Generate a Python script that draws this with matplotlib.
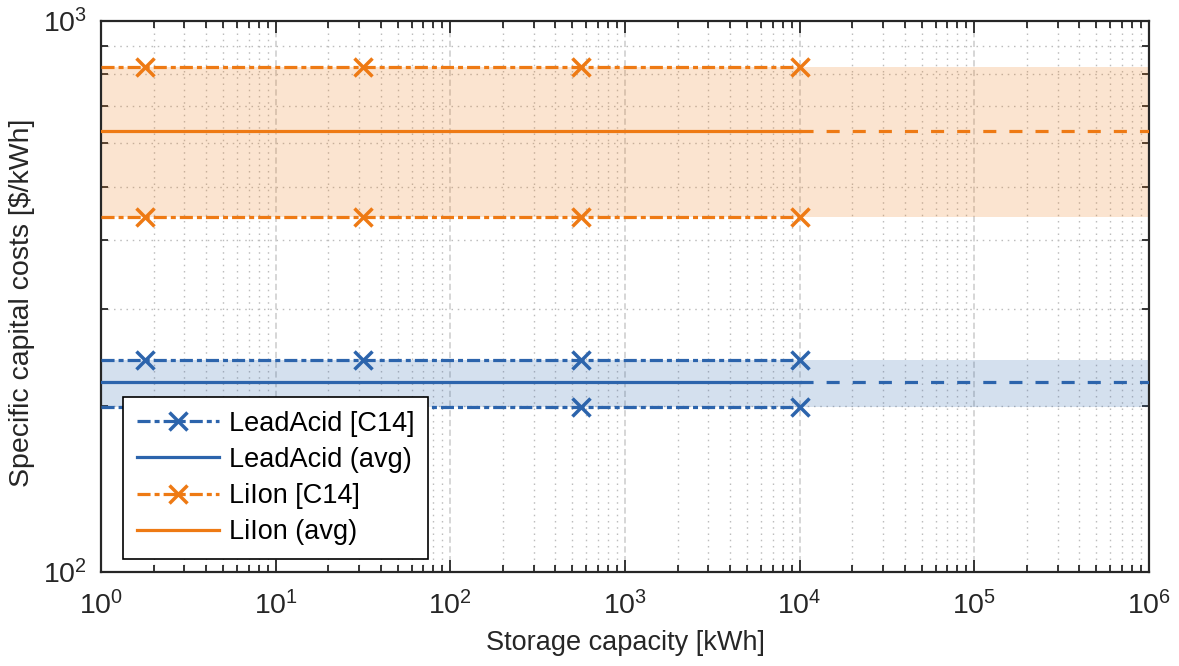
import matplotlib
matplotlib.use("Agg")
import matplotlib.pyplot as plt
from matplotlib.ticker import FixedLocator, NullFormatter

plt.rcParams['font.family'] = ['Liberation Sans', 'DejaVu Sans']
plt.rcParams['mathtext.fontset'] = 'custom'
plt.rcParams['mathtext.rm'] = 'Liberation Sans'
plt.rcParams['mathtext.it'] = 'Liberation Sans:italic'
plt.rcParams['mathtext.bf'] = 'Liberation Sans:bold'
plt.rcParams['lines.scale_dashes'] = False

# Storage capacity sample points [kWh] (C14 cost estimates are marked at all but the first)
capacity = [1, 1.78, 31.6, 562, 10000]
marked = [1, 2, 3, 4]
# Range over which the averages are extrapolated
capacity_ext = [10000, 1000000]
capacity_full = [1, 1000000]

# Specific capital costs [$/kWh]
leadacid_high = [243, 243, 243, 243, 243]
leadacid_low = [199, 199, 199, 199, 199]
liion_high = [825, 825, 825, 825, 825]
liion_low = [440, 440, 440, 440, 440]
leadacid_avg = 221
liion_avg = 632.5

series_labels = ['LeadAcid [C14]', 'LeadAcid (avg)', 'LiIon [C14]', 'LiIon (avg)']
x_decades = [1, 10, 100, 1000, 10000, 100000, 1000000]
y_decades = [100, 1000]

blue = '#2C64AC'
orange = '#EE7A14'
ink = '#262626'

fig = plt.figure(figsize=(11.79, 6.66), dpi=100)
ax = fig.add_axes([101 / 1179, 1 - 572 / 666, 1048 / 1179, 551 / 666])
ax.set_xscale('log')
ax.set_yscale('log')

# Shaded cost bands
ax.fill_between(capacity_full, [leadacid_low[0]] * 2, [leadacid_high[0]] * 2,
                color=blue, alpha=0.2, linewidth=0, zorder=1)
ax.fill_between(capacity_full, [liion_low[0]] * 2, [liion_high[0]] * 2,
                color=orange, alpha=0.2, linewidth=0, zorder=1)

dashdot = (0, (9.4, 2.9, 3.6, 2.9))
dashed = (0, (9.4, 9.4))
lw = 2.3
mk = dict(marker='x', markersize=13, markeredgewidth=2.5, markevery=marked)

ax.plot(capacity, leadacid_high, color=blue, lw=lw, linestyle=dashdot,
        label=series_labels[0], zorder=3, **mk)
ax.plot(capacity, leadacid_low, color=blue, lw=lw, linestyle=dashdot, zorder=3, **mk)
ax.plot([capacity[0], capacity[-1]], [leadacid_avg] * 2, color=blue, lw=lw,
        linestyle='-', label=series_labels[1], zorder=3)
ax.plot(capacity_ext, [leadacid_avg] * 2, color=blue, lw=lw, linestyle=dashed, zorder=3)

ax.plot(capacity, liion_high, color=orange, lw=lw, linestyle=dashdot,
        label=series_labels[2], zorder=3, **mk)
ax.plot(capacity, liion_low, color=orange, lw=lw, linestyle=dashdot, zorder=3, **mk)
ax.plot([capacity[0], capacity[-1]], [liion_avg] * 2, color=orange, lw=lw,
        linestyle='-', label=series_labels[3], zorder=3)
ax.plot(capacity_ext, [liion_avg] * 2, color=orange, lw=lw, linestyle=dashed, zorder=3)

ax.set_xlim(x_decades[0], x_decades[-1])
ax.set_ylim(y_decades[0], y_decades[-1])

x_minor = [d * k for d in x_decades[:-1] for k in range(2, 10)]
y_minor = [d * k for d in y_decades[:-1] for k in range(2, 10)]
ax.xaxis.set_major_locator(FixedLocator(x_decades))
ax.xaxis.set_minor_locator(FixedLocator(x_minor))
ax.yaxis.set_major_locator(FixedLocator(y_decades))
ax.yaxis.set_minor_locator(FixedLocator(y_minor))
ax.xaxis.set_minor_formatter(NullFormatter())
ax.yaxis.set_minor_formatter(NullFormatter())

ax.grid(which='major', color='#d3d3d3', linestyle=(0, (4.5, 2.5)), linewidth=1.3, zorder=0)
ax.grid(which='minor', color='#bdbdbd', linestyle=(0, (1.1, 3.4)), linewidth=1.0, zorder=0)
ax.set_axisbelow(True)

ax.tick_params(which='both', direction='in', top=True, right=True, colors=ink,
               labelsize=20.5, width=1.3)
ax.tick_params(which='major', length=8.5)
ax.tick_params(axis='x', which='major', pad=14)
ax.tick_params(axis='y', which='major', pad=10)
ax.tick_params(which='minor', length=5)
for s in ax.spines.values():
    s.set_color(ink)
    s.set_linewidth(1.6)

ax.set_xlabel('Storage capacity [kWh]', fontsize=19.5, color=ink, labelpad=7)
ax.set_ylabel(r'Specific capital costs [\$/kWh]', fontsize=20.5, color=ink, va='center')
ax.yaxis.set_label_coords(-0.0754, 0.488)

leg = ax.legend(loc='lower left', bbox_to_anchor=(0.021, 0.0236), borderaxespad=0,
                fontsize=19.5, frameon=True, fancybox=False, framealpha=1,
                edgecolor='black', handlelength=3.05, handletextpad=0.35,
                labelspacing=0.38, borderpad=0.5)
leg.get_frame().set_linewidth(1.2)
leg.set_zorder(5)
for t in leg.get_texts():
    t.set_color('black')

fig.savefig('out.png', dpi=100)
